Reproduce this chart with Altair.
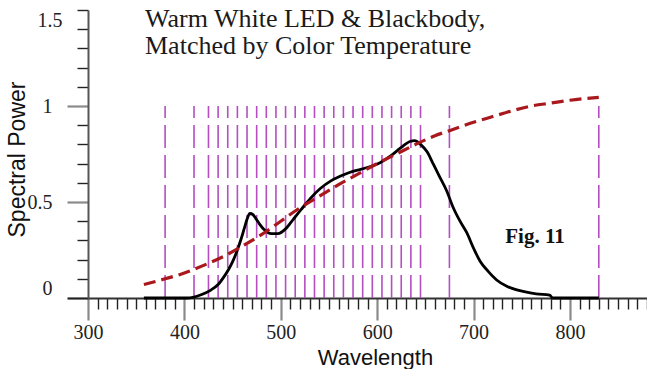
import altair as alt
import pandas as pd

# LED spectrum (wavelength nm, relative power)
led_nm = [358, 380, 402, 410, 418, 427, 435, 441, 446, 451, 455, 459, 462, 465, 468,
          471, 474, 478, 483, 490, 497, 505, 513, 521, 531, 541, 552, 562, 572, 583,
          593, 603, 614, 624, 634, 639, 645, 652, 658, 665, 672, 679, 686, 693, 700,
          707, 715, 724, 735, 745, 755, 765, 779, 782, 800, 830]
led_val = [0, 0, 0, 0.005, 0.018, 0.04, 0.07, 0.11, 0.15, 0.2, 0.25, 0.31, 0.36, 0.41, 0.44,
           0.435, 0.415, 0.385, 0.355, 0.335, 0.335, 0.36, 0.41, 0.46, 0.52, 0.57, 0.61, 0.635, 0.655, 0.67,
           0.685, 0.705, 0.74, 0.78, 0.815, 0.82, 0.80, 0.76, 0.70, 0.63, 0.56, 0.47, 0.40, 0.34, 0.26,
           0.19, 0.14, 0.094, 0.06, 0.042, 0.03, 0.021, 0.015, 0.0, 0, 0]

# Blackbody curve
bb_nm = [358, 380, 400, 420, 440, 460, 480, 500, 520, 540, 560, 580, 600, 620, 640,
         660, 680, 700, 720, 740, 760, 780, 800, 830]
bb_val = [0.07, 0.10, 0.13, 0.17, 0.215, 0.27, 0.33, 0.40, 0.47, 0.53, 0.59, 0.645, 0.70, 0.75, 0.80,
          0.845, 0.88, 0.915, 0.945, 0.975, 1.0, 1.015, 1.03, 1.045]

# Vertical sample lines
sample_nm = [380, 410, 425, 435, 445, 455, 465, 475, 485, 495, 505, 515, 525, 535, 545,
             555, 565, 575, 585, 595, 605, 615, 625, 635, 645, 675, 830]
sample_top = 1.0

x_ticks = [300, 310, 320, 330, 340, 350, 360, 370, 380, 390, 400, 410, 420, 430, 440, 450,
           460, 470, 480, 490, 500, 510, 520, 530, 540, 550, 560, 570, 580, 590, 600, 610,
           620, 630, 640, 650, 660, 670, 680, 690, 700, 710, 720, 730, 740, 750, 760, 770,
           780, 790, 800, 810, 820, 830, 840, 850, 860, 870, 880]
y_ticks = [0, 0.1, 0.2, 0.3, 0.4, 0.5, 0.6, 0.7, 0.8, 0.9, 1, 1.1, 1.2, 1.3, 1.4, 1.5]

title_lines = ["Warm White LED & Blackbody,", "Matched by Color Temperature"]
fig_label = "Fig. 11"

led_df = pd.DataFrame({"nm": led_nm, "p": led_val})
bb_df = pd.DataFrame({"nm": bb_nm, "p": bb_val})
samp_df = pd.DataFrame({"nm": sample_nm, "p0": [0] * len(sample_nm), "p1": [sample_top] * len(sample_nm)})

xscale = alt.Scale(domain=[300, 880], nice=False, zero=False)
yscale = alt.Scale(domain=[0, 1.5], nice=False, zero=False)

xaxis = alt.Axis(
    values=x_ticks,
    title="Wavelength",
    titleFont="Liberation Sans", titleFontSize=22, titleFontWeight="normal", titleColor="#111",
    titleX=287, titleY=59, titleBaseline="middle", titleAlign="center",
    labelFont="Liberation Serif", labelFontSize=20, labelColor="#222",
    labelExpr="datum.value % 100 === 0 && datum.value <= 800 ? datum.label : ''",
    labelFlush=False, labelOverlap=False, labelBound=False, labelPadding=2,
    tickSize={"condition": {"test": "datum.value % 100 === 0", "value": 22}, "value": 11},
    tickColor={"condition": {"test": "datum.value % 100 === 0", "value": "#8a8a8a"}, "value": "#222"},
    tickWidth={"condition": {"test": "datum.value % 100 === 0", "value": 2.2}, "value": 1.4},
    domainColor="#333", domainWidth=2, grid=False,
)
yaxis = alt.Axis(
    values=y_ticks,
    title="Spectral Power",
    titleFont="Liberation Sans", titleFontSize=23, titleFontWeight="normal", titleColor="#111",
    titleX=-71, titleY=149, titleAngle=-90, titleBaseline="middle", titleAlign="center",
    labelFont="Liberation Serif", labelFontSize=20, labelColor="#222",
    labelExpr="datum.value == 0 ? '0' : datum.value == 0.5 ? '0.5' : datum.value == 1 ? '1' : datum.value == 1.5 ? '1.5' : ''",
    labelFlush=True, labelOverlap=False, labelBound=False, labelPadding=15,
    tickSize={"condition": {"test": "datum.value == 0 || datum.value == 0.5 || datum.value == 1", "value": 21}, "value": 11},
    tickColor={"condition": {"test": "datum.value == 0.5 || datum.value == 1", "value": "#8a8a8a"}, "value": "#222"},
    tickWidth={"condition": {"test": "datum.value == 0.5 || datum.value == 1 || datum.value == 0", "value": 2.2}, "value": 1.4},
    domainColor="#555", domainWidth=2, grid=False,
)

X = lambda f: alt.X(f, scale=xscale, axis=xaxis)
Y = lambda f: alt.Y(f, scale=yscale, axis=yaxis)

rules = alt.Chart(samp_df).mark_rule(color="#b44fc2", strokeWidth=1.6, strokeDash=[23, 7]).encode(
    x=X("nm:Q"), y=Y("p0:Q"), y2="p1:Q",
)

led = alt.Chart(led_df).mark_line(color="#000", strokeWidth=2.8, interpolate="monotone").encode(
    x=X("nm:Q"), y=Y("p:Q"),
)

bb = alt.Chart(bb_df).mark_line(color="#a8181c", strokeWidth=3.2, strokeDash=[12, 6], interpolate="monotone").encode(
    x=X("nm:Q"), y=Y("p:Q"),
)

title1 = alt.Chart(pd.DataFrame({"t": [title_lines[0]]})).mark_text(
    font="Liberation Serif", fontSize=26, align="left", baseline="alphabetic", color="#1a1a1a"
).encode(text="t:N", x=alt.value(57), y=alt.value(17))
title2 = alt.Chart(pd.DataFrame({"t": [title_lines[1]]})).mark_text(
    font="Liberation Serif", fontSize=26, align="left", baseline="alphabetic", color="#1a1a1a"
).encode(text="t:N", x=alt.value(57), y=alt.value(44))
fig = alt.Chart(pd.DataFrame({"t": [fig_label]})).mark_text(
    font="Liberation Serif", fontSize=21, fontWeight="bold", align="center", baseline="alphabetic", color="#111"
).encode(text="t:N", x=alt.value(447), y=alt.value(233))

chart = alt.layer(rules, led, bb, title1, title2, fig).properties(
    width=559, height=288,
    padding={"left": 88, "top": 10, "right": 0, "bottom": 71},
    autosize="none",
    background="white",
).configure_view(stroke=None)

chart.save("out.html", embed_options={"renderer": "svg", "actions": False})
